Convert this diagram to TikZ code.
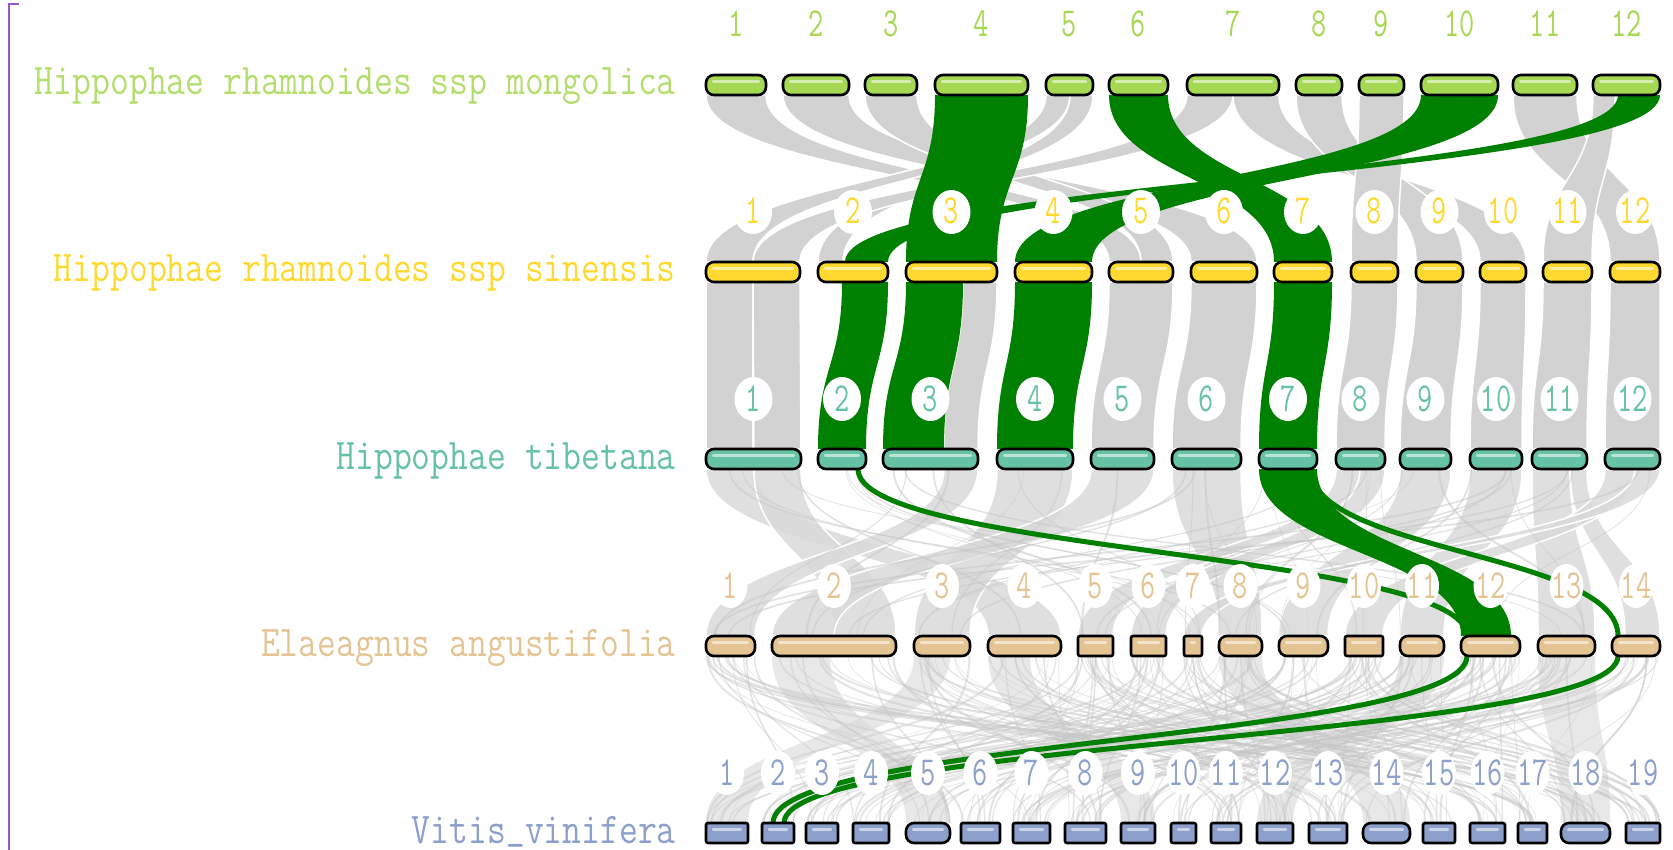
\documentclass[tikz,border=0pt]{standalone}
\usepackage{fontspec}
\usepackage{graphicx}
\definecolor{cA}{HTML}{A6D854}
\definecolor{cB}{HTML}{FFD92F}
\definecolor{cC}{HTML}{66C2A5}
\definecolor{cD}{HTML}{E5C494}
\definecolor{cE}{HTML}{8DA0CB}
\definecolor{syn}{HTML}{008000}
\definecolor{framecol}{HTML}{9B59C6}
\newcommand\synrib[7]{%
  \pgfmathsetmacro\ym{(#3+#6)/2}%
  \path[#7] (#1,#3) .. controls (#1,\ym) and (#4,\ym) .. (#4,#6) -- (#5,#6) .. controls (#5,\ym) and (#2,\ym) .. (#2,#3) -- cycle;}
\newcommand\synline[5]{%
  \pgfmathsetmacro\ym{(#2+#4)/2}%
  \draw[#5] (#1,#2) .. controls (#1,\ym) and (#3,\ym) .. (#3,#4);}
\newcommand\synchr[5]{%
  \path[draw=black, line width=2.6pt, fill=#4, rounded corners=#5pt] (#1,#3-10) rectangle (#2,#3+10);
  \path[draw=white, draw opacity=.55, line width=2.2pt, line cap=round] (#1+7,#3-3.5) -- (#2-7,#3-3.5);}
\tikzset{
  gband/.style={fill=gray!35, draw=white, line width=1.5pt},
  gbandb/.style={fill=gray!30, fill opacity=.85, draw=white, line width=1.5pt},
  grib/.style={fill=syn},
  gline/.style={draw=syn, line width=5pt},
  num/.style={font=\fontsize{29.5}{32}\selectfont\ttfamily, inner sep=0pt, anchor=base},
  lab/.style={font=\fontsize{36.6}{40}\selectfont\ttfamily, inner sep=0pt, anchor=base east},
  hole/.style={fill=white}
}
\def\LD{{706,772,914,988,1078,1131,1184,1219,1279,1345,1400,1461,1538,1612}}
\def\RD{{755,896,970,1061,1113,1166,1202,1262,1328,1383,1444,1520,1595,1660}}
\def\LE{{706,762,806,853,906,961,1013,1065,1121,1171,1211,1257,1309,1363,1423,1470,1518,1561,1626}}
\def\RE{{748,794,838,889,950,1000,1050,1106,1155,1196,1241,1293,1347,1410,1455,1505,1547,1610,1660}}
\def\LC{{706,818,883,997,1091,1172,1259,1336,1400,1470,1532,1605}}
\def\RC{{801,866,978,1073,1154,1241,1317,1385,1451,1522,1587,1660}}
\begin{document}
\begin{tikzpicture}[x=1pt,y=-1pt]
\useasboundingbox (0,0) rectangle (1673,850);
% ---------- gray ribbons rows 1-2
\foreach \a/\b/\c/\d in {706/766/1109/1141, 783/849/1191/1257, 865/917/1141/1173,
  1046/1070/706/753, 1070/1093/818/843, 1187/1233/753/800, 1233/1279/1480/1526,
  1296/1342/1416/1463, 1359/1404/1351/1398, 1513/1577/1610/1660, 1593/1615/1543/1592}
  {\synrib{\a}{\b}{95}{\c}{\d}{262}{gband}}
% ---------- gray ribbons rows 2-3
\foreach \a/\b/\c/\d in {706/753/706/753, 753/800/754/801, 963/997/944/978,
  1109/1173/1091/1154, 1191/1257/1172/1241, 1351/1398/1336/1385, 1416/1463/1400/1451,
  1480/1526/1470/1522, 1543/1592/1532/1587, 1610/1660/1605/1660}
  {\synrib{\a}{\b}{282}{\c}{\d}{449}{gband}}
% ---------- gray ribbons rows 3-4
\foreach \a/\b/\c/\d in {706/754/988/1061, 754/801/834/896, 944/978/706/755,
  997/1073/914/970, 1091/1154/772/834, 1172/1241/1219/1262, 1336/1360/1078/1113,
  1360/1385/1131/1166, 1400/1451/1279/1328, 1470/1522/1400/1444, 1532/1570/1538/1595,
  1570/1587/1625/1660, 1605/1635/1345/1383, 1635/1660/1184/1202}
  {\synrib{\a}{\b}{469}{\c}{\d}{636}{gbandb}}
\pgfmathsetseed{11}
\foreach \k in {1,...,45}{
  \pgfmathrandominteger{\ia}{0}{11}
  \pgfmathrandominteger{\ib}{0}{13}
  \pgfmathsetmacro\xa{\LC[\ia]+rnd*(\RC[\ia]-\LC[\ia])}
  \pgfmathsetmacro\xb{\LD[\ib]+rnd*(\RD[\ib]-\LD[\ib])}
  \pgfmathsetmacro\lw{0.5+1.5*rnd}
  \draw[gray!45, opacity=.5, line width=\lw pt] (\xa,469) .. controls (\xa,552) and (\xb,552) .. (\xb,636);
}
% ---------- rows 4-5 dense lines
\foreach \a/\b/\c/\d in {772/830/906/950, 988/1030/1121/1155, 1219/1262/1363/1410,
  1400/1444/1257/1293, 1538/1595/1561/1610, 914/950/706/748}
  {\synrib{\a}{\b}{656}{\c}{\d}{823}{fill=gray!30, fill opacity=.6}}
\foreach \k in {1,...,230}{
  \pgfmathrandominteger{\ia}{0}{13}
  \pgfmathrandominteger{\ib}{0}{18}
  \pgfmathsetmacro\xa{\LD[\ia]+rnd*(\RD[\ia]-\LD[\ia])}
  \pgfmathsetmacro\xb{\LE[\ib]+rnd*(\RE[\ib]-\LE[\ib])}
  \pgfmathsetmacro\lw{0.4+1.8*rnd}
  \draw[gray!45, opacity=.45, line width=\lw pt] (\xa,656) .. controls (\xa,740) and (\xb,740) .. (\xb,823);
}
% ---------- green ribbons
\synrib{935}{1028}{95}{906}{997}{262}{grib}
\synrib{1109}{1168}{95}{1274}{1332}{262}{grib}
\synrib{1421}{1498}{95}{1015}{1092}{262}{grib}
\synrib{1618}{1660}{95}{845}{888}{262}{grib}
\synrib{906}{963}{282}{883}{944}{449}{grib}
\synrib{1274}{1332}{282}{1259}{1317}{449}{grib}
\synrib{1015}{1092}{282}{997}{1073}{449}{grib}
\synrib{842}{888}{282}{818}{866}{449}{grib}
\synrib{1259}{1317}{469}{1461}{1511}{636}{grib}
\synline{1311}{469}{1618}{636}{gline}
\synline{858}{469}{1467}{636}{gline}
\synline{1467}{656}{773}{823}{gline}
\synline{1618}{656}{784}{823}{gline}
% ---------- number holes and numbers
\foreach \x [count=\i] in {736,816,891,981.5,1069.5,1138.5,1233,1319,1381.5,1459.5,1545,1626.5}
  {\fill[hole] (\x,25) ellipse (19pt and 22pt);
   \node[num, text=cA] (n1-\i) at (\x,37) {\scalebox{1}[1.4]{\i}};}
\foreach \x [count=\i] in {753,853,951.5,1053.5,1141,1224,1303,1374.5,1439.5,1503,1567.5,1635}
  {\fill[hole] (\x,212) ellipse (19pt and 22pt);
   \node[num, text=cB] (n2-\i) at (\x,224) {\scalebox{1}[1.4]{\i}};}
\foreach \x [count=\i] in {753.5,842,930.5,1035,1122.5,1206.5,1288,1360.5,1425.5,1496,1559.5,1632.5}
  {\fill[hole] (\x,399) ellipse (19pt and 22pt);
   \node[num, text=cC] (n3-\i) at (\x,411) {\scalebox{1}[1.4]{\i}};}
\foreach \x [count=\i] in {730.5,834,942,1024.5,1095.5,1148.5,1193,1240.5,1303.5,1364,1422,1490.5,1566.5,1636}
  {\fill[hole] (\x,586) ellipse (17pt and 22pt);
   \node[num, text=cD] (n4-\i) at (\x,598) {\scalebox{1}[1.4]{\i}};}
\foreach \x [count=\i] in {727,778,822,871,928,980.5,1031.5,1085.5,1138,1183.5,1226,1275,1328,1386.5,1439,1487.5,1532.5,1585.5,1643}
  {\fill[hole] (\x,773) ellipse (17pt and 22pt);
   \node[num, text=cE] (n5-\i) at (\x,785) {\scalebox{1}[1.4]{\i}};}
% ---------- chromosomes
\foreach \l/\r/\k in {706/766/8,783/849/8,865/917/8,935/1028/8,1046/1093/8,1109/1168/8,1187/1279/8,1296/1342/8,1359/1404/8,1421/1498/8,1513/1577/8,1593/1660/8}
  {\synchr{\l}{\r}{85}{cA}{\k}}
\foreach \l/\r/\k in {706/800/8,818/888/8,906/997/8,1015/1092/8,1109/1173/8,1191/1257/8,1274/1332/8,1351/1398/8,1416/1463/8,1480/1526/8,1543/1592/8,1610/1660/8}
  {\synchr{\l}{\r}{272}{cB}{\k}}
\foreach \l/\r/\k in {706/801/8,818/866/8,883/978/8,997/1073/8,1091/1154/8,1172/1241/8,1259/1317/8,1336/1385/8,1400/1451/8,1470/1522/8,1532/1587/8,1605/1660/8}
  {\synchr{\l}{\r}{459}{cC}{\k}}
\foreach \l/\r/\k in {706/755/8,772/896/8,914/970/8,988/1061/8,1078/1113/2,1131/1166/2,1184/1202/2,1219/1262/8,1279/1328/8,1345/1383/2,1400/1444/8,1461/1520/8,1538/1595/8,1612/1660/8}
  {\synchr{\l}{\r}{646}{cD}{\k}}
\foreach \l/\r/\k in {706/748/2,762/794/2,806/838/2,853/889/2,906/950/8,961/1000/2,1013/1050/2,1065/1106/2,1121/1155/2,1171/1196/2,1211/1241/2,1257/1293/2,1309/1347/2,1363/1410/8,1423/1455/2,1470/1505/2,1518/1547/2,1561/1610/8,1626/1660/2}
  {\synchr{\l}{\r}{833}{cE}{\k}}
% ---------- labels
\node[lab, text=cA!85!white] (labA) at (676,95) {\scalebox{1}[1.2]{Hippophae rhamnoides ssp mongolica}};
\node[lab, text=cB] (labB) at (676,282) {\scalebox{1}[1.2]{Hippophae rhamnoides ssp sinensis}};
\node[lab, text=cC] (labC) at (676,469) {\scalebox{1}[1.2]{Hippophae tibetana}};
\node[lab, text=cD] (labD) at (676,656) {\scalebox{1}[1.2]{Elaeagnus angustifolia}};
\node[lab, text=cE] (labE) at (676,843) {\scalebox{1}[1.2]{Vitis\raisebox{4pt}{\_}vinifera}};
% ---------- frame line
\draw[framecol, line width=1.8pt] (19,4) -- (9,4) -- (9,850);
\end{tikzpicture}
\end{document}
